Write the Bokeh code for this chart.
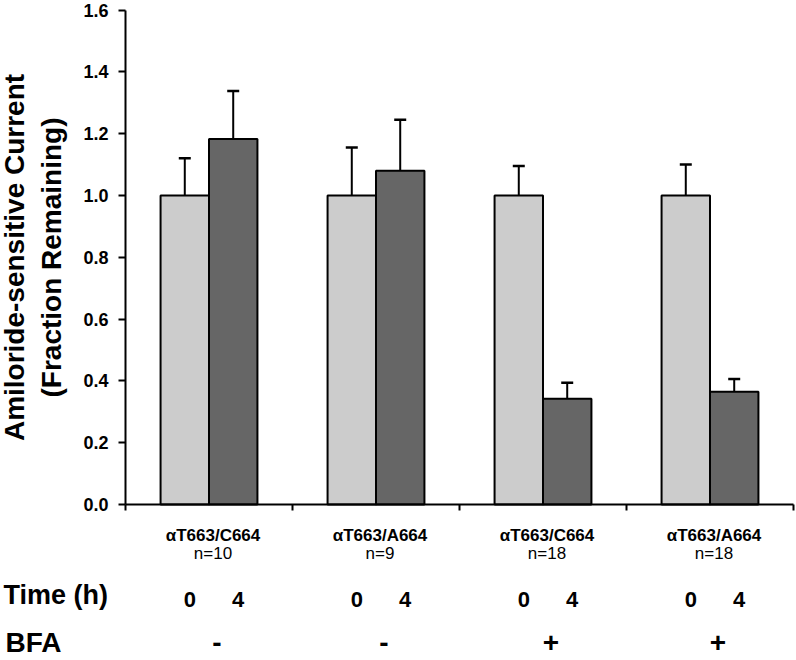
from bokeh.plotting import figure
from bokeh.models import (ColumnDataSource, FixedTicker, NumeralTickFormatter, Range1d,
                          LinearAxis, CustomJSTickFormatter)
from bokeh.core.properties import value
from bokeh.embed import file_html
from bokeh.resources import INLINE

# ---------------- data ----------------
groups = ["αT663/C664", "αT663/A664", "αT663/C664", "αT663/A664"]
n_labels = ["n=10", "n=9", "n=18", "n=18"]
time_labels = ["0", "4"]
bfa_labels = ["-", "-", "+", "+"]
t0_values = [1.0, 1.0, 1.0, 1.0]
t0_errors = [0.12, 0.155, 0.095, 0.10]
t4_values = [1.183, 1.08, 0.342, 0.365]
t4_errors = [0.155, 0.165, 0.052, 0.041]
y_ticks = [0.0, 0.2, 0.4, 0.6, 0.8, 1.0, 1.2, 1.4, 1.6]
x_ticks = [0, 1, 2, 3, 4]
y_title = "Amiloride-sensitive Current\n(Fraction Remaining)"

FONT = "Liberation Sans"
LIGHT = "#cccccc"
DARK = "#666666"
BAR_W = 0.29

# ---------------- layout constants (pixels) ----------------
W, H = 796, 660
AX_LEFT, AX_RIGHT = 125, 793      # x-axis extent
AX_TOP, AX_ZERO = 9.5, 504        # y of 1.6 and of 0.0
ux = (AX_RIGHT - AX_LEFT) / 4.0
uy = (AX_ZERO - AX_TOP) / 1.6


def below(px):
    """data y of a row lying px pixels below the zero line"""
    return -px / uy


centers = [i + 0.5 for i in range(len(groups))]
x_t0 = [c - BAR_W / 2 for c in centers]
x_t4 = [c + BAR_W / 2 for c in centers]

p = figure(width=W, height=H, output_backend="svg", toolbar_location=None,
           x_range=Range1d(-AX_LEFT / ux, (W - AX_LEFT) / ux),
           y_range=Range1d(-(H - AX_ZERO) / uy, 1.6 + AX_TOP / uy),
           x_axis_location=None, y_axis_location=None, min_border=0)
p.outline_line_color = None
p.grid.visible = False

src0 = ColumnDataSource(dict(x=x_t0, top=t0_values,
                             etop=[v + e for v, e in zip(t0_values, t0_errors)]))
src4 = ColumnDataSource(dict(x=x_t4, top=t4_values,
                             etop=[v + e for v, e in zip(t4_values, t4_errors)]))

for src, col in ((src0, LIGHT), (src4, DARK)):
    p.vbar(x="x", top="top", bottom=0, width=BAR_W, source=src,
           fill_color=col, line_color="black", line_width=2)
    p.segment(x0="x", y0="top", x1="x", y1="etop", source=src,
              line_color="black", line_width=2)
    p.scatter(x="x", y="etop", marker="dash", size=12, source=src,
              line_color="black", line_width=2.5)

# ---------------- axes ----------------
yax = LinearAxis(fixed_location=0, bounds=(0, 1.6),
                 ticker=FixedTicker(ticks=y_ticks),
                 formatter=NumeralTickFormatter(format="0.0"))
yax.minor_tick_line_color = None
yax.major_tick_in = 0
yax.major_tick_out = 7
yax.major_tick_line_width = 2
yax.axis_line_width = 2
yax.major_label_standoff = 10
yax.major_label_text_font = FONT
yax.major_label_text_font_style = "bold"
yax.major_label_text_font_size = "18px"
yax.major_label_text_color = "black"
yax.axis_label = y_title
yax.axis_label_text_font = FONT
yax.axis_label_text_font_style = "bold"
yax.axis_label_text_font_size = "28px"
yax.axis_label_text_color = "black"
yax.axis_label_standoff = 13
p.add_layout(yax, "left")

xax = LinearAxis(fixed_location=0, bounds=(0, 4), ticker=FixedTicker(ticks=x_ticks),
                 formatter=CustomJSTickFormatter(code="return ''"))
xax.minor_tick_line_color = None
xax.major_tick_in = 0
xax.major_tick_out = 6
xax.major_tick_line_width = 2
xax.axis_line_width = 2
p.add_layout(xax, "below")

# ---------------- rows of text below the axis ----------------
p.text(x=centers, y=[below(31)] * 4, text=groups, x_offset=4,
       text_align="center", text_baseline="middle", text_font=value(FONT),
       text_font_style="bold", text_font_size="17px", text_color="black")
p.text(x=centers, y=[below(49)] * 4, text=n_labels, x_offset=4,
       text_align="center", text_baseline="middle", text_font=value(FONT),
       text_font_size="17px", text_color="black")
p.text(x=x_t0 + x_t4, y=[below(95)] * 8,
       text=[time_labels[0]] * 4 + [time_labels[1]] * 4, x_offset=5,
       text_align="center", text_baseline="middle", text_font=value(FONT),
       text_font_style="bold", text_font_size="22px", text_color="black")
p.text(x=centers, y=[below(138)] * 4, text=bfa_labels, x_offset=8,
       text_align="center", text_baseline="middle", text_font=value(FONT),
       text_font_style="bold", text_font_size="28px", text_color="black")
p.text(x=[p.x_range.start], y=[below(90)], text=["Time (h)"], x_offset=3,
       text_align="left", text_baseline="middle", text_font=value(FONT),
       text_font_style="bold", text_font_size="27px", text_color="black")
p.text(x=[p.x_range.start], y=[below(138)], text=["BFA"], x_offset=5,
       text_align="left", text_baseline="middle", text_font=value(FONT),
       text_font_style="bold", text_font_size="28px", text_color="black")

open("out.html", "w").write(file_html(p, INLINE))
